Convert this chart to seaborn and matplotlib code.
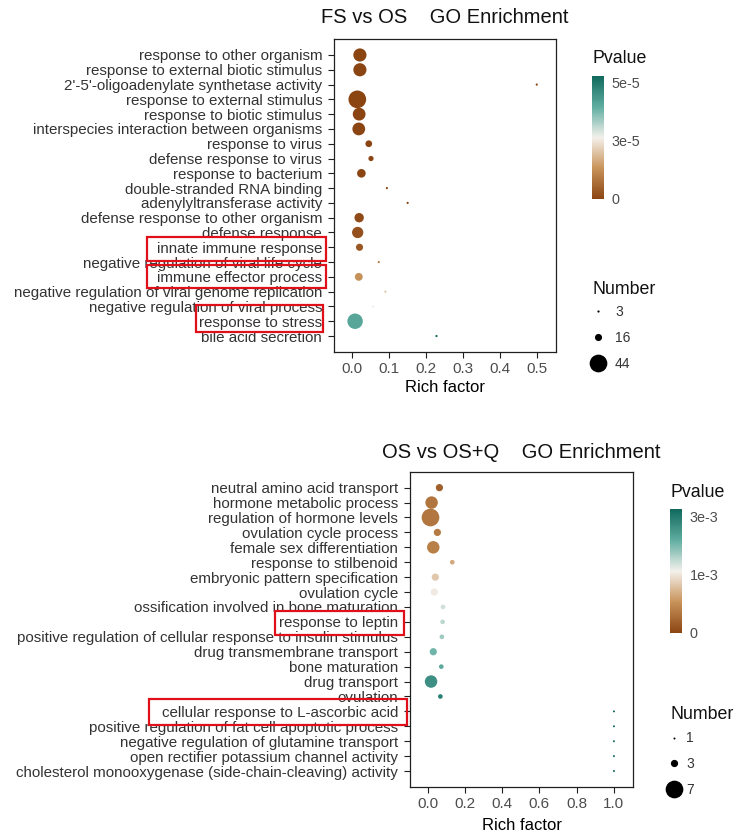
import numpy as np
import pandas as pd
import matplotlib
matplotlib.use("Agg")
import matplotlib.pyplot as plt
from matplotlib.colors import LinearSegmentedColormap, Normalize
from matplotlib.cm import ScalarMappable
from matplotlib.lines import Line2D
from matplotlib.patches import Rectangle
import seaborn as sns

sns.set_theme(style="ticks")
plt.rcParams["font.family"] = ["Liberation Sans", "DejaVu Sans"]

# ---------------- FS vs OS ----------------
fs_terms = [
    "response to other organism",
    "response to external biotic stimulus",
    "2'-5'-oligoadenylate synthetase activity",
    "response to external stimulus",
    "response to biotic stimulus",
    "interspecies interaction between organisms",
    "response to virus",
    "defense response to virus",
    "response to bacterium",
    "double-stranded RNA binding",
    "adenylyltransferase activity",
    "defense response to other organism",
    "defense response",
    "innate immune response",
    "negative regulation of viral life cycle",
    "immune effector process",
    "negative regulation of viral genome replication",
    "negative regulation of viral process",
    "response to stress",
    "bile acid secretion",
]
fs_rich = [0.022, 0.022, 0.500, 0.015, 0.020, 0.019, 0.046, 0.052, 0.026, 0.095,
           0.151, 0.020, 0.016, 0.021, 0.073, 0.019, 0.091, 0.058, 0.009, 0.229]
fs_number = [32, 32, 3, 44, 31, 31, 15, 11, 20, 3,
             3, 22, 27, 16, 3, 18, 3, 3, 38, 3]
fs_pvalue = [1.2e-12, 1.5e-12, 4.0e-10, 6.0e-10, 1.1e-9, 3.5e-9, 8.0e-9, 2.1e-8, 6.3e-8, 1.4e-7,
             3.6e-7, 8.8e-7, 1.9e-6, 3.3e-6, 9.5e-6, 1.3e-5, 2.0e-5, 2.7e-5, 4.1e-5, 5.3e-5]
fs_pticks = [0, 2.5e-5, 5e-5]
fs_plabels = ["0", "3e-5", "5e-5"]
fs_size_breaks = [3, 16, 44]

# ---------------- OS vs OS+Q ----------------
q_terms = [
    "neutral amino acid transport",
    "hormone metabolic process",
    "regulation of hormone levels",
    "ovulation cycle process",
    "female sex differentiation",
    "response to stilbenoid",
    "embryonic pattern specification",
    "ovulation cycle",
    "ossification involved in bone maturation",
    "response to leptin",
    "positive regulation of cellular response to insulin stimulus",
    "drug transmembrane transport",
    "bone maturation",
    "drug transport",
    "ovulation",
    "cellular response to L-ascorbic acid",
    "positive regulation of fat cell apoptotic process",
    "negative regulation of glutamine transport",
    "open rectifier potassium channel activity",
    "cholesterol monooxygenase (side-chain-cleaving) activity",
]
q_rich = [0.063, 0.021, 0.015, 0.052, 0.030, 0.132, 0.041, 0.035, 0.082, 0.080,
          0.076, 0.030, 0.073, 0.018, 0.068, 1.0, 1.0, 1.0, 1.0, 1.0]
q_number = [3, 5, 7, 3, 5, 2, 3, 3, 2, 2,
            2, 3, 2, 5, 2, 1, 1, 1, 1, 1]
q_pvalue = [2.8e-4, 5.0e-4, 5.2e-4, 5.6e-4, 6.0e-4, 9.8e-4, 1.25e-3, 1.55e-3, 1.80e-3, 1.90e-3,
            2.05e-3, 2.30e-3, 2.45e-3, 2.75e-3, 2.95e-3, 3.2e-3, 3.2e-3, 3.2e-3, 3.2e-3, 3.2e-3]
q_pticks = [0, 1.5e-3, 3e-3]
q_plabels = ["0", "1e-3", "3e-3"]
q_size_breaks = [1, 3, 7]

W, H, DPI = 738, 839, 100
TXT = "#333333"
pcmap = LinearSegmentedColormap.from_list(
    "pval", [(0.0, "#8B4513"), (0.25, "#C8935A"), (0.5, "#F4F1EC"),
             (0.75, "#5FADA0"), (1.0, "#10695D")])


def fig_rect(left, top, right, bottom):
    """Pixel box (from the top-left corner) to figure fraction rect."""
    return [left / W, 1 - bottom / H, (right - left) / W, (bottom - top) / H]


def fx(x):
    return x / W


def fy(y):
    return 1 - y / H


def size_table(levels, nmin, nmax, dmin_px, dmax_px):
    """Marker area (pt^2) with diameter growing linearly in gene number."""
    out = {}
    for n in levels:
        d = dmin_px + (dmax_px - dmin_px) * (n - nmin) / (nmax - nmin)
        out[n] = (d * 72 / DPI) ** 2
    return out


def panel(fig, terms, rich, number, pvalue, *, title, title_base, ax_px, xlim, xticks,
          pmax, pticks, plabels, breaks, drange, cbar_px, ptitle_xy, ntitle_xy,
          legend_xy, text_pad, ypad, xlabelpad):
    df = pd.DataFrame({"Term": terms, "Rich factor": rich,
                       "Number": number, "Pvalue": pvalue})
    ax = fig.add_axes(fig_rect(*ax_px))
    nmin, nmax = min(breaks), max(breaks)
    sizes = size_table(sorted(set(number) | set(breaks)), nmin, nmax, *drange)
    norm = Normalize(0, pmax)
    sns.scatterplot(data=df, x="Rich factor", y="Term", hue="Pvalue", size="Number",
                    palette=pcmap, hue_norm=norm, sizes=sizes, linewidth=0,
                    legend=False, ax=ax, zorder=3)
    ax.set_xlim(*xlim)
    ax.set_ylim(len(terms) - 1 + ypad[1], -ypad[0])
    ax.set_xticks(xticks)
    ax.set_xticklabels([f"{t:.1f}" for t in xticks])
    ax.set_ylabel("")
    ax.set_xlabel("Rich factor", fontsize=12, color="black", labelpad=xlabelpad)
    ax.tick_params(axis="y", labelsize=10.9, colors="#202020", labelcolor=TXT,
                   length=4, width=0.8, pad=4.5)
    ax.tick_params(axis="x", labelsize=11, colors="#202020", labelcolor="#4D4D4D",
                   length=4, width=0.8, pad=3)
    for s in ax.spines.values():
        s.set_visible(True)
        s.set_color("#202020")
        s.set_linewidth(0.9)

    cx = (ax_px[0] + ax_px[2]) / 2
    fig.text(fx(cx), fy(title_base), title, ha="center", va="baseline",
             fontsize=14.5, color="#111111")

    # Pvalue colour bar
    cax = fig.add_axes(fig_rect(*cbar_px))
    cb = fig.colorbar(ScalarMappable(norm=norm, cmap=pcmap), cax=cax)
    cb.outline.set_visible(False)
    cb.set_ticks(pticks, labels=plabels)
    cax.tick_params(length=0, labelsize=10.4, labelcolor="#4D4D4D", pad=5.5)
    fig.text(fx(ptitle_xy[0]), fy(ptitle_xy[1]), "Pvalue", ha="left",
             va="baseline", fontsize=12.8, color="#111111")

    # Number size legend
    fig.text(fx(ntitle_xy[0]), fy(ntitle_xy[1]), "Number", ha="left",
             va="baseline", fontsize=12.8, color="#111111")
    handles = [Line2D([], [], ls="", marker="o", color="black", markeredgewidth=0,
                      markersize=np.sqrt(sizes[b])) for b in breaks]
    fig.legend(handles, [str(b) for b in breaks], loc="upper left",
               bbox_to_anchor=(fx(legend_xy[0]), fy(legend_xy[1])),
               frameon=False, fontsize=10, labelcolor=TXT, handlelength=0.9,
               handletextpad=text_pad, labelspacing=0.85, borderpad=0,
               borderaxespad=0)
    return ax


fig = plt.figure(figsize=(W / DPI, H / DPI), dpi=DPI)
fig.patch.set_facecolor("white")

panel(fig, fs_terms, fs_rich, fs_number, fs_pvalue,
      title="FS vs OS    GO Enrichment", title_base=23.3,
      ax_px=(334, 39.3, 556, 352), xlim=(-0.048, 0.552),
      xticks=[0.0, 0.1, 0.2, 0.3, 0.4, 0.5],
      pmax=5.3e-5, pticks=fs_pticks, plabels=fs_plabels,
      breaks=fs_size_breaks, drange=(2.2, 17.7),
      cbar_px=(592, 76, 604, 199), ptitle_xy=(593, 63.3), ntitle_xy=(592, 294.3),
      legend_xy=(592, 305), text_pad=0.75, ypad=(1.06, 1.08), xlabelpad=3)

panel(fig, q_terms, q_rich, q_number, q_pvalue,
      title="OS vs OS+Q    GO Enrichment", title_base=458.3,
      ax_px=(410, 472, 633.3, 787), xlim=(-0.095, 1.104),
      xticks=[0.0, 0.2, 0.4, 0.6, 0.8, 1.0],
      pmax=3.2e-3, pticks=q_pticks, plabels=q_plabels,
      breaks=q_size_breaks, drange=(2.0, 17.7),
      cbar_px=(670, 509, 682.3, 633), ptitle_xy=(670.7, 497.3), ntitle_xy=(670, 719.3),
      legend_xy=(668, 731.5), text_pad=0.4, ypad=(1.05, 1.07), xlabelpad=5)

# Highlight boxes around the terms of interest
boxes = [
    (146.7, 237.3, 326, 261.5),
    (146.7, 264.5, 326, 288.3),
    (196, 305, 323.3, 331.7),
    (275.3, 611, 404.3, 635),
    (149, 699, 406.7, 725),
]
for l, t, r, b in boxes:
    x0, y0, w, h = fig_rect(l, t, r, b)
    fig.add_artist(Rectangle((x0, y0), w, h, transform=fig.transFigure,
                             fill=False, edgecolor="#E0101A", linewidth=1.6,
                             zorder=10))

fig.savefig("out.png", dpi=DPI, facecolor="white")
